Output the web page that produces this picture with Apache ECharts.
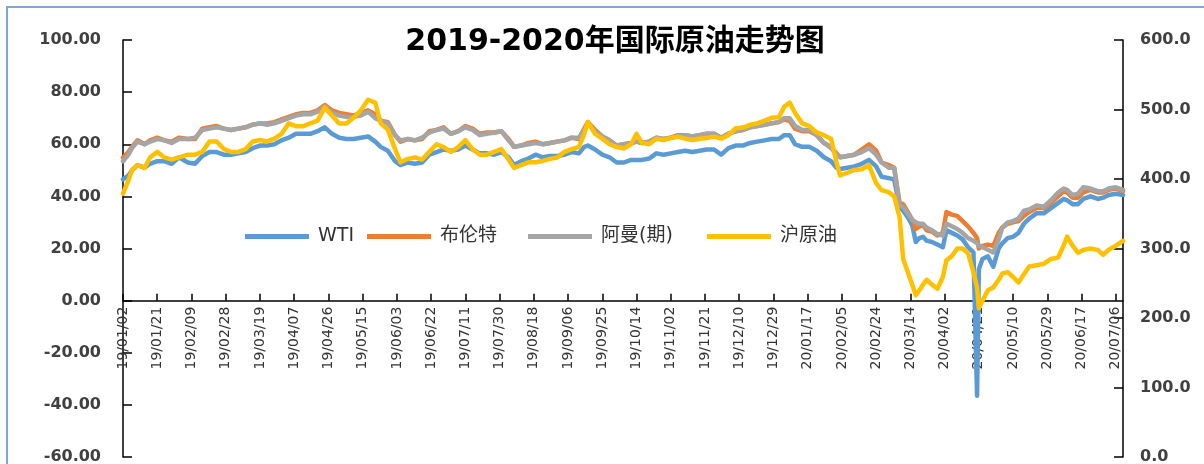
<!DOCTYPE html>
<html><head><meta charset="utf-8">
<script src="https://cdn.jsdelivr.net/npm/echarts@6/dist/echarts.min.js"></script>
<style>html,body{margin:0;padding:0;background:#fff}#c{width:1204px;height:464px}</style>
</head><body><div id="c"></div>
<script>
const sampleDates = [
'19/01/02','19/01/05','19/01/07','19/01/10','19/01/14','19/01/17','19/01/21','19/01/25','19/01/29','19/02/02',
'19/02/07','19/02/11','19/02/15','19/02/19','19/02/23','19/02/27','19/03/03','19/03/07','19/03/11','19/03/15',
'19/03/19','19/03/23','19/03/27','19/03/31','19/04/04','19/04/08','19/04/12','19/04/16','19/04/20','19/04/24',
'19/04/28','19/05/02','19/05/06','19/05/10','19/05/14','19/05/18','19/05/22','19/05/25','19/05/29','19/06/02',
'19/06/05','19/06/09','19/06/13','19/06/17','19/06/21','19/06/25','19/06/29','19/07/03','19/07/07','19/07/11',
'19/07/15','19/07/19','19/07/23','19/07/27','19/07/31','19/08/04','19/08/07','19/08/11','19/08/15','19/08/19',
'19/08/23','19/08/27','19/08/31','19/09/04','19/09/08','19/09/12','19/09/15','19/09/17','19/09/21','19/09/25',
'19/09/29','19/10/03','19/10/07','19/10/11','19/10/14','19/10/17','19/10/21','19/10/25','19/10/29','19/11/02',
'19/11/06','19/11/10','19/11/14','19/11/18','19/11/22','19/11/26','19/11/30','19/12/04','19/12/08','19/12/12',
'19/12/16','19/12/20','19/12/24','19/12/28','20/01/01','20/01/04','20/01/07','20/01/10','20/01/14','20/01/18',
'20/01/22','20/01/26','20/01/30','20/02/02','20/02/04','20/02/08','20/02/12','20/02/16','20/02/20','20/02/24',
'20/02/27','20/03/02','20/03/05','20/03/08','20/03/10','20/03/13','20/03/15','20/03/17','20/03/19','20/03/21',
'20/03/23','20/03/26','20/03/29','20/04/01','20/04/03','20/04/06','20/04/09','20/04/12','20/04/15','20/04/18',
'20/04/20','20/04/21','20/04/23','20/04/26','20/04/29','20/05/02','20/05/04','20/05/07','20/05/10','20/05/13',
'20/05/16','20/05/19','20/05/23','20/05/27','20/05/31','20/06/04','20/06/07','20/06/09','20/06/12','20/06/15',
'20/06/18','20/06/22','20/06/26','20/06/29','20/07/02','20/07/06','20/07/10'
];
// USD/bbl (left axis)
const wti = [
46.5,48,50,52,51,52.5,53.5,53.5,52.5,55,
53,52.5,55.5,57,57,56,56,56.5,57,58.5,
59.5,59.5,60,61.5,62.5,64,64,64,65,66.5,
64,62.5,62,62,62.5,63,61,59,57.5,53.5,
52,53,52.5,53,56,57,58,57.5,58,59.5,
58,56.5,56.5,56,57,55,52,53.5,54.5,56,
55,55.5,55.5,56,57,56.5,59,59.5,58,56,
55,53,53,54,54,54,54.5,56.5,56,56.5,
57,57.5,57,57.5,58,58,56,58.5,59.5,59.5,
60.5,61,61.5,62,62,63.5,63.5,60,59,59,
57.5,55,53.5,51,50.5,51,51.5,52.5,54,51.5,
47.5,47,46.5,36,34.5,31.5,29,22.5,24,24.5,
23,22.5,21.5,20.5,27,26,25,23.5,20.5,18.5,
-36.5,12,16,17,13,20,22,24,24.5,26,
29.5,31.5,33.5,33.5,35.5,37.5,39,38.5,37,37,
39,40,39,39.5,40.5,41,40.5
];
const brent = [
54.9,57,59,61.5,60,61.5,62.5,61.5,61,62.5,
62,62,66,66.5,67,66,65.5,66,66.5,67.5,
68,68,68.5,69.5,70.5,71.5,72,72,73,75,
73,72,71.5,71,72,73,71.5,69,68.5,63.5,
61,62,61.5,62,65,65.5,66.5,64,65,67,
66,64,64.5,64.5,65,62,59,59.5,60.5,61,
60,60.5,61,61.5,62.5,62,66,68.5,65.5,63,
61.5,59.5,60,60.5,61,60.5,61,62.5,62,62.5,
63.5,63.5,63,63.5,64,64,62.5,64,65,65.5,
66.5,67,67.5,68,68.5,69.5,69,66,65,65,
63.5,60.5,59,56.5,55,55.5,56,58,60,57.5,
53,52,51,37.5,37,33.5,31,27.5,28.5,29,
27,26.5,25,26,34,33,32.5,30.5,28.5,26,
24,20,21,21.5,21,26,28,29.5,30,30.5,
32.5,34,35.5,35.5,37.5,40,42,41.5,39.5,39.5,
41.5,42.5,41.5,41.5,42.5,43,42
];
const oman = [
53.5,56,58.5,61,60,61,62,61.5,60.5,62,
62,62.5,65.5,66,66.5,66,65.5,66,66.5,67.5,
68,67.5,68,69,70,71,71.5,71.5,72.5,74.5,
72,71,70.5,70.5,71,72.5,70,69,68,63.5,
61.5,62,61.5,62.5,64.5,65.5,66,64,65,66.5,
65.5,63.5,64,64.5,65,61.5,59,59.5,60,60.5,
60,60.5,61,61.5,62.5,62.5,65.5,68,65,63,
61.5,59.5,60,60.5,61,60.5,61,62.5,62,62.5,
63,63.5,63,63.5,64,64,62.5,64,65,65.5,
66.5,67,67.5,68,68.5,70,70,67,65.5,65.5,
63.5,60.5,58.5,56,55,55.5,56,57,58.5,56,
53,51,51,36.5,36,33,31,30,29.5,29.5,
28,27,25.5,25,29.5,28.5,27.5,26,24,23,
22,21,20.5,19.5,18.5,23.5,28,30,30.5,31.5,
34.5,35,36.5,36,38.5,41.5,43,42.5,40.5,41,
43.5,43,42,42,43,43.5,42.5
];
// CNY/bbl (right axis)
const shanghai = [
379,398,413,420,416,431,439,431,428,431,
435,435,439,454,454,443,439,439,443,454,
456,454,458,465,480,476,476,480,484,503,
491,480,480,488,499,514,510,480,471,443,
424,429,431,428,439,450,446,439,446,456,
443,435,435,439,443,428,416,420,424,424,
426,429,431,439,443,446,465,482,465,458,
450,446,444,450,465,452,450,458,456,459,
461,458,456,458,459,461,458,463,473,474,
478,480,484,488,489,504,510,495,480,476,
467,463,458,424,405,409,413,414,420,394,
384,381,375,345,285,263,248,233,240,248,
255,248,242,259,283,289,300,300,293,266,
244,214,225,240,244,255,264,266,259,251,
263,274,276,278,285,287,304,317,304,294,
298,300,298,291,298,304,311
];
const seriesNames = ['WTI','布伦特','阿曼(期)','沪原油'];
const seriesColors = ['#5b9bd5','#ed7d31','#a5a5a5','#ffc000'];
const titleText = '2019-2020年国际原油走势图';
const leftMin = -60, leftMax = 100;

// calendar-day categories from first to last date
function fmt(d){return String(d.getUTCFullYear()).slice(2)+'/'+String(d.getUTCMonth()+1).padStart(2,'0')+'/'+String(d.getUTCDate()).padStart(2,'0');}
const categories=[];
for(let t=Date.UTC(2019,0,2);t<=Date.UTC(2020,6,10);t+=86400000) categories.push(fmt(new Date(t)));

const FONT = '"DejaVu Sans","Noto Sans CJK SC",sans-serif';
const chart = echarts.init(document.getElementById('c'));
const valueSets = [wti, brent, oman, shanghai];
const legendLefts = [240, 362, 523, 702];
const gridTop = 40, gridBottom = 7, H = 464;
const plotH = H - gridTop - gridBottom;
// x axis sits at the left axis' zero level
const xOffset = -plotH * (0 - leftMin) / (leftMax - leftMin);

chart.setOption({
  animation:false,
  backgroundColor:'#fff',
  graphic:[{type:'rect',shape:{x:7,y:7,width:1400,height:700},style:{fill:'none',stroke:'#7ea6d8',lineWidth:2},silent:true,z:-1}],
  title:{text:titleText,left:610,textAlign:'center',top:22,textStyle:{fontSize:30,fontWeight:'bold',color:'#000',fontFamily:FONT}},
  legend: seriesNames.map((n,i)=>({data:[n],left:legendLefts[i],top:222,icon:'rect',itemWidth:64,itemHeight:5,selectedMode:false,
    textStyle:{fontSize:19,color:'#333',fontFamily:FONT,padding:[0,0,0,4]}})),
  grid:{left:123,right:81,top:gridTop,bottom:gridBottom,containLabel:false,outerBoundsMode:'none'},
  xAxis:{type:'category',data:categories,boundaryGap:false,offset:xOffset,
    axisLine:{onZero:false,lineStyle:{color:'#000',width:1.5}},
    axisTick:{inside:true,length:7,interval:18,lineStyle:{color:'#000',width:1.5}},
    axisLabel:{interval:18,rotate:90,margin:6,fontSize:14,color:'#333',fontFamily:FONT},
    splitLine:{show:false}},
  yAxis:[
    {type:'value',min:leftMin,max:leftMax,interval:20,
      axisLine:{show:true,lineStyle:{color:'#000',width:1.5}},
      axisTick:{show:true,inside:true,length:9,lineStyle:{color:'#000',width:1.5}},
      splitLine:{show:false},
      axisLabel:{formatter:v=>v.toFixed(2),margin:22,fontSize:16,fontWeight:'bold',color:'#404040',fontFamily:FONT}},
    {type:'value',position:'right',min:0,max:600,interval:100,
      axisLine:{show:true,lineStyle:{color:'#000',width:1.5}},
      axisTick:{show:true,inside:true,length:9,lineStyle:{color:'#000',width:1.5}},
      splitLine:{show:false},
      axisLabel:{formatter:v=>v.toFixed(1),margin:17,fontSize:16,fontWeight:'bold',color:'#404040',fontFamily:FONT}}
  ],
  series: seriesNames.map((n,i)=>({
    name:n,type:'line',yAxisIndex:i===3?1:0,showSymbol:false,symbol:'none',
    color:seriesColors[i],
    lineStyle:{width:4.5,color:seriesColors[i],cap:'round',join:'round'},
    data:sampleDates.map((d,k)=>[d,valueSets[i][k]])
  }))
});
</script></body></html>
